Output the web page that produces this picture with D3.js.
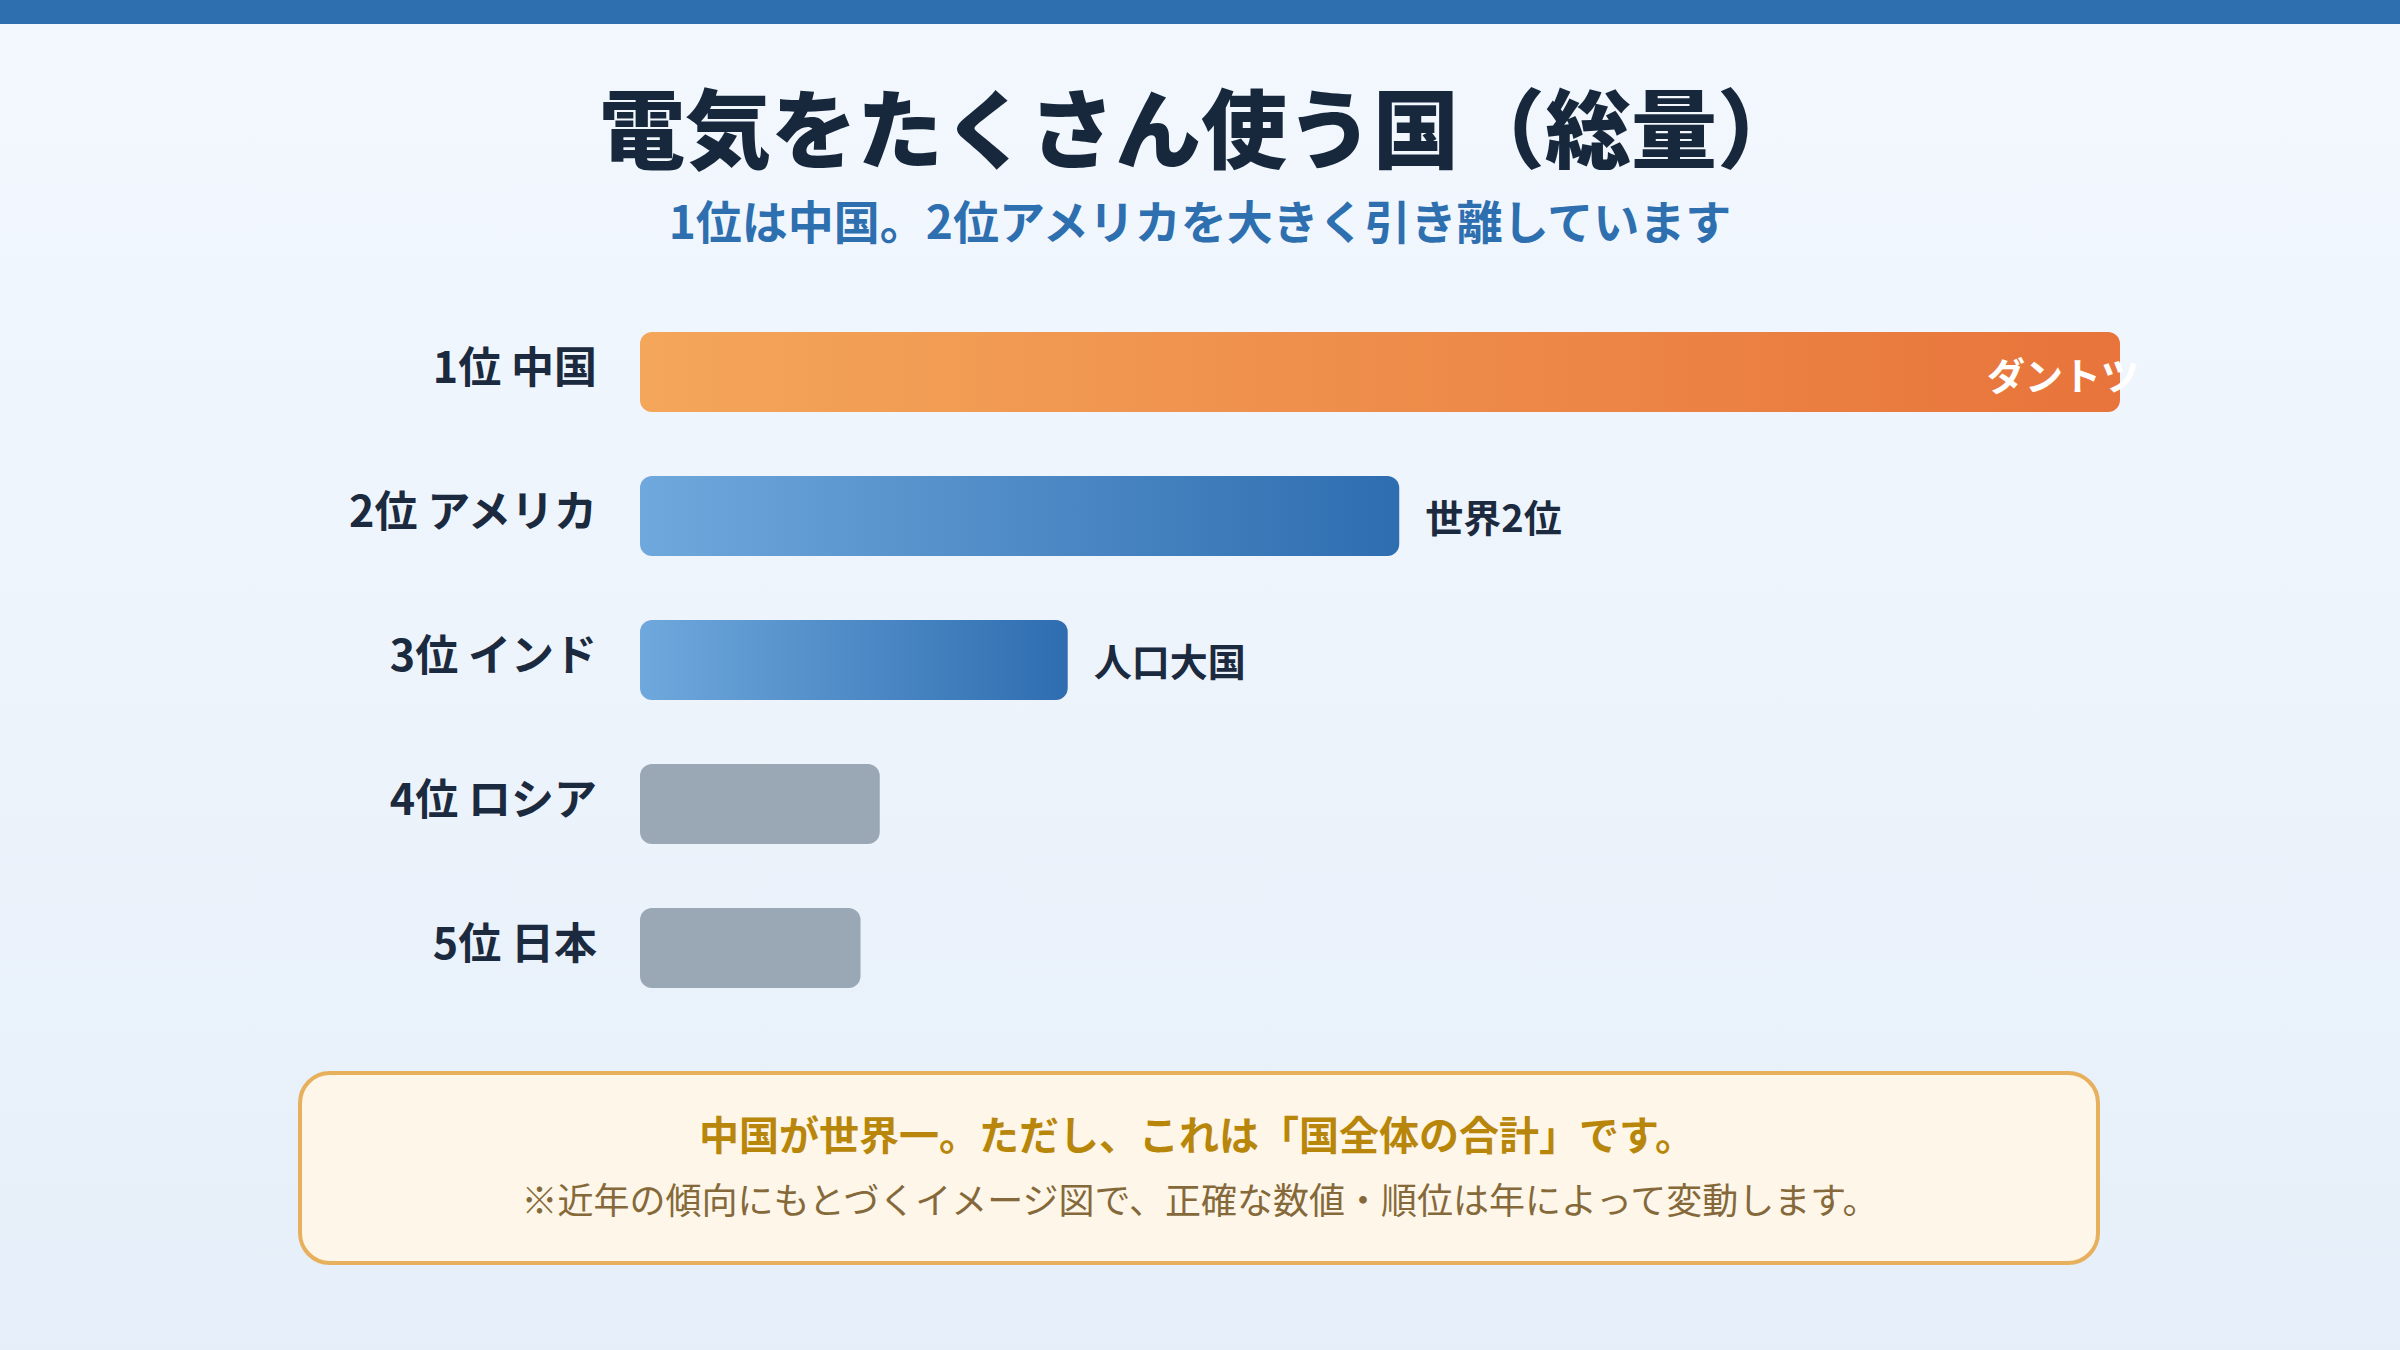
<!DOCTYPE html>
<html lang="ja">
<head>
<meta charset="utf-8">
<script src="https://cdn.jsdelivr.net/npm/d3@7/dist/d3.min.js"></script>
<style>
  html, body { margin: 0; padding: 0; }
  body { width: 2400px; height: 1350px; overflow: hidden; font-family: "Noto Sans CJK JP", "Noto Sans", sans-serif; }
</style>
</head>
<body>
<div id="chart"></div>
<script>
// data
const ranks = ["1位 中国", "2位 アメリカ", "3位 インド", "4位 ロシア", "5位 日本"];
const values = [100, 51.3, 28.9, 16.2, 14.9]; // relative total, China = 100
const notes = ["ダントツ", "世界2位", "人口大国", "", ""];
const kinds = ["top", "blue", "blue", "gray", "gray"];

const W = 2400, H = 1350;

const svg = d3.select("#chart")
  .append("svg")
  .attr("width", W)
  .attr("height", H);

const defs = svg.append("defs");

const bg = defs.append("linearGradient").attr("id", "bg")
  .attr("x1", 0).attr("y1", 0).attr("x2", 0).attr("y2", 1);
bg.append("stop").attr("offset", "0%").attr("stop-color", "#f3f8fe");
bg.append("stop").attr("offset", "100%").attr("stop-color", "#e6eff9");

const gOrange = defs.append("linearGradient").attr("id", "gOrange");
gOrange.append("stop").attr("offset", "0%").attr("stop-color", "#f4a65a");
gOrange.append("stop").attr("offset", "100%").attr("stop-color", "#e8743b");

const gBlue = defs.append("linearGradient").attr("id", "gBlue");
gBlue.append("stop").attr("offset", "0%").attr("stop-color", "#6fa8dc");
gBlue.append("stop").attr("offset", "100%").attr("stop-color", "#2e6db0");

const fillFor = { top: "url(#gOrange)", blue: "url(#gBlue)", gray: "#9aa8b5" };

svg.append("rect").attr("width", W).attr("height", H).attr("fill", "url(#bg)");
svg.append("rect").attr("width", W).attr("height", 24).attr("fill", "#2e6fb0");

// title
svg.append("text")
  .attr("x", 1201).attr("y", 162)
  .attr("text-anchor", "middle")
  .style("font-size", "86px").style("font-weight", 900)
  .style("fill", "#17283d")
  .text("電気をたくさん使う国（総量）");

svg.append("text")
  .attr("x", 1200).attr("y", 239)
  .attr("text-anchor", "middle")
  .style("font-size", "46px").style("font-weight", 700)
  .style("fill", "#2e6fb0")
  .text("1位は中国。2位アメリカを大きく引き離しています");

// bars: step 144, bar height 80
const x = d3.scaleLinear().domain([0, 100]).range([640, 2120]);
const yb = d3.scaleBand().domain(ranks).range([332, 988]).paddingInner(4 / 9).paddingOuter(0);

const rows = svg.append("g").selectAll("g")
  .data(ranks.map((r, i) => ({ rank: r, value: values[i], note: notes[i], kind: kinds[i] })))
  .enter().append("g");

rows.append("rect")
  .attr("x", x(0))
  .attr("y", d => yb(d.rank))
  .attr("width", d => x(d.value) - x(0))
  .attr("height", yb.bandwidth())
  .attr("rx", 12)
  .attr("fill", d => fillFor[d.kind]);

rows.append("text")
  .attr("x", 597)
  .attr("y", d => yb(d.rank) + yb.bandwidth() / 2 - 8)
  .attr("text-anchor", "end")
  .attr("dominant-baseline", "central")
  .style("font-size", "43px").style("font-weight", 700)
  .style("fill", "#1b2a3e")
  .text(d => d.rank);

// notes beside / inside bars
rows.filter(d => d.note && d.kind !== "top").append("text")
  .attr("x", d => x(d.value) + 26)
  .attr("y", d => yb(d.rank) + yb.bandwidth() / 2 - 1)
  .attr("dominant-baseline", "central")
  .style("font-size", "38px").style("font-weight", 700)
  .style("fill", "#1b2a3e")
  .text(d => d.note);

rows.filter(d => d.kind === "top").append("text")
  .attr("x", d => x(d.value) - 133)
  .attr("y", d => yb(d.rank) + yb.bandwidth() / 2 + 1)
  .attr("dominant-baseline", "central")
  .style("font-size", "38px").style("font-weight", 700)
  .style("fill", "#ffffff")
  .text(d => d.note);

// note box
const box = svg.append("g");
box.append("rect")
  .attr("x", 300).attr("y", 1073)
  .attr("width", 1798).attr("height", 190)
  .attr("rx", 30)
  .attr("fill", "#fef6e8")
  .attr("stroke", "#e6b05c")
  .attr("stroke-width", 4);

box.append("text")
  .attr("x", 1197).attr("y", 1133)
  .attr("text-anchor", "middle")
  .attr("dominant-baseline", "central")
  .style("font-size", "40px").style("font-weight", 700)
  .style("fill", "#b8860b")
  .text("中国が世界一。ただし、これは「国全体の合計」です。");

box.append("text")
  .attr("x", 1200).attr("y", 1198)
  .attr("text-anchor", "middle")
  .attr("dominant-baseline", "central")
  .style("font-size", "36px").style("font-weight", 400)
  .style("fill", "#85693a")
  .text("※近年の傾向にもとづくイメージ図で、正確な数値・順位は年によって変動します。");
</script>
</body>
</html>
